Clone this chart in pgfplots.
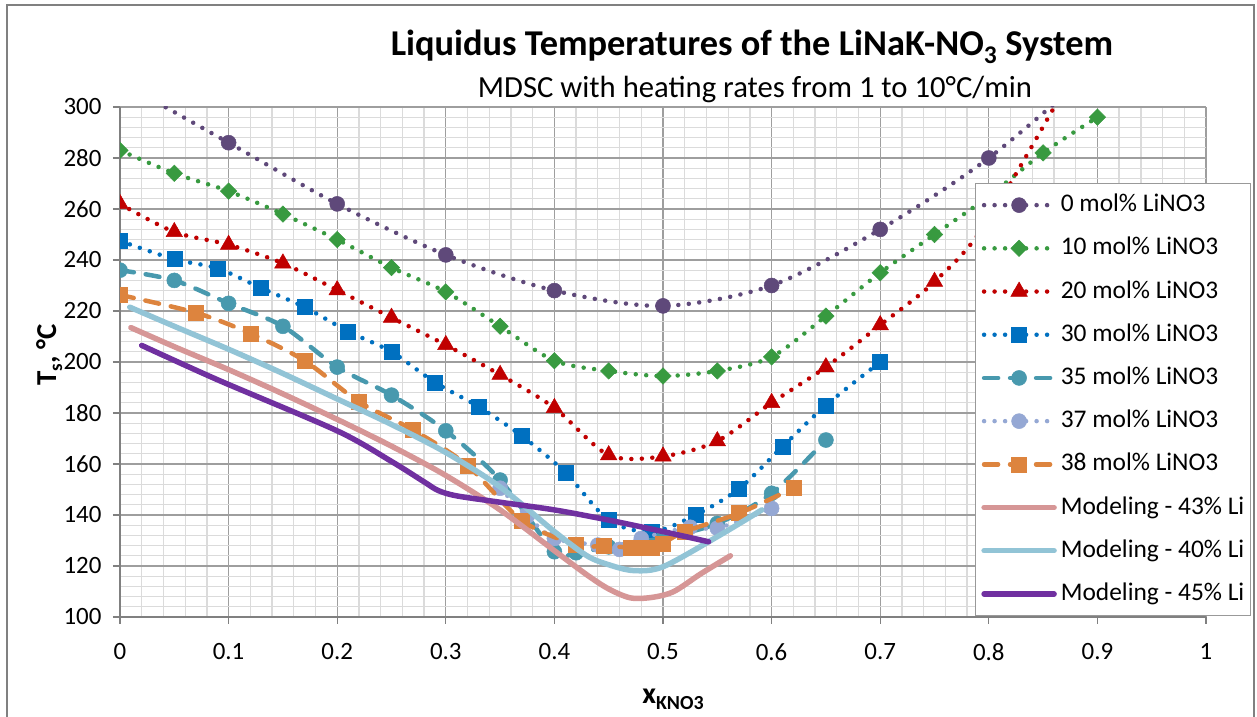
\documentclass[border=0pt]{standalone}
\usepackage{fontspec}
\setmainfont{Carlito}
\usepackage{pgfplots}
\pgfplotsset{compat=1.18}
\definecolor{cP}{RGB}{95,73,122}
\definecolor{cG}{RGB}{56,154,64}
\definecolor{cR}{RGB}{192,0,0}
\definecolor{cB}{RGB}{0,112,192}
\definecolor{cT}{RGB}{72,153,174}
\definecolor{cL}{RGB}{149,168,212}
\definecolor{cO}{RGB}{221,132,62}
\definecolor{cPink}{RGB}{214,150,150}
\definecolor{cLB}{RGB}{146,196,214}
\definecolor{cV}{RGB}{112,48,160}
\pgfplotsset{
 dotline/.style={line width=4.5bp, line cap=round, dash pattern=on 0bp off 10.5bp, smooth},
 dashline/.style={line width=4.5bp, line cap=round, dash pattern=on 14bp off 12bp, smooth},
 modline/.style={line width=5.5bp, smooth, line cap=round},
}
\begin{document}
\begin{tikzpicture}
\path[use as bounding box] (0bp,0bp) rectangle (1257bp,717bp);
\begin{axis}[
 at={(120bp,100bp)}, anchor=south west, scale only axis,
 width=1086bp, height=510bp,
 xmin=0, xmax=1, ymin=100, ymax=300,
 xtick={0,0.1,0.2,0.3,0.4,0.5,0.6,0.7,0.8,0.9,1},
 xticklabels={0,0.1,0.2,0.3,0.4,0.5,0.6,0.7,0.8,0.9,1},
 ytick={100,120,140,160,180,200,220,240,260,280,300},
 minor x tick num=4, minor y tick num=4,
 grid=both,
 major grid style={draw=black!38, line width=1.3bp},
 minor grid style={draw=black!14, line width=1.3bp},
 axis lines=left, axis line style={-, draw=black!50, line width=1.3bp},
 tick align=outside, major tick length=7bp, minor tick length=0bp,
 tick style={draw=black!50, line width=1.3bp},
 /pgf/number format/assume math mode=true,
 ticklabel style={font=\fontsize{25}{30}\selectfont},
 xticklabel style={yshift=-16bp},
 yticklabel style={xshift=-8bp},
 clip marker paths=true,
 legend cell align=left,
 legend style={at={(axis description cs:0.787,0.851)}, anchor=north west,
   draw=black!40, line width=1.3bp, fill=white,
   font=\fontsize{25.5}{30}\selectfont,
   inner xsep=6bp, inner ysep=10bp, row sep=20.2bp, column sep=4bp,
   nodes={inner sep=0pt, text height=18bp, text depth=5bp}},
 legend image code/.code={\draw[mark repeat=2,mark phase=2,#1] plot coordinates {(0bp,0bp) (35bp,0bp) (70bp,0bp)};},
]
\addplot[cP, dotline, mark=*, mark size=7.5bp, mark options={solid, line width=0.5bp, fill=cP}] coordinates {
(0,310) (0.1,286) (0.2,262) (0.3,242) (0.4,228) (0.5,222) (0.6,230) (0.7,252) (0.8,280) (0.9,316)};
\addlegendentry{0 mol\% LiNO3}
\addplot[cG, dotline, mark=square*, mark size=5.8bp, mark options={solid, rotate=45, line width=0.5bp, fill=cG}] coordinates {
(0,283) (0.05,274) (0.1,267) (0.15,258) (0.2,248) (0.25,237) (0.3,227.5) (0.35,214) (0.4,200.5) (0.45,196.5) (0.5,194.5) (0.55,196.5) (0.6,202) (0.65,218) (0.7,235) (0.75,250) (0.8,265) (0.85,282) (0.9,296)};
\addlegendentry{10 mol\% LiNO3}
\addplot[cR, dotline, mark=triangle*, mark size=9.5bp, mark options={solid, line width=0.5bp, fill=cR}] coordinates {
(0,262) (0.05,251) (0.1,246) (0.15,238.7) (0.2,228.2) (0.25,217.4) (0.3,206.7) (0.35,195) (0.4,182) (0.45,163.5) (0.5,163) (0.55,169) (0.6,184) (0.65,198) (0.7,214.5) (0.75,231.5) (0.8,256) (0.9,330)};
\addlegendentry{20 mol\% LiNO3}
\addplot[cB, dotline, mark=square*, mark size=7.5bp, mark options={solid, line width=0.5bp, fill=cB}] coordinates {
(0,247.5) (0.05,240.3) (0.09,236.7) (0.13,229) (0.17,221.5) (0.21,212) (0.25,204) (0.29,192) (0.33,182.5) (0.37,171) (0.41,156.7) (0.45,138) (0.49,133.4) (0.53,140) (0.57,150.3) (0.61,166.8) (0.65,183) (0.7,200)};
\addlegendentry{30 mol\% LiNO3}
\addplot[cT, dashline, mark=*, mark size=7.5bp, mark options={solid, line width=0.5bp, fill=cT}] coordinates {
(0,236) (0.05,232) (0.1,223) (0.15,214) (0.2,198) (0.25,187) (0.3,173) (0.35,153.7) (0.4,125.6) (0.42,125.2) (0.45,127.5) (0.5,131) (0.55,136.7) (0.6,148.5) (0.65,169.4)};
\addlegendentry{35 mol\% LiNO3}
\addplot[cL, dotline, mark=*, mark size=7.5bp, mark options={solid, line width=0.5bp, fill=cL}] coordinates {
(0.35,150.5) (0.375,139.6) (0.4,130.8) (0.44,128.2) (0.46,126.5) (0.48,130.8) (0.525,135.2) (0.55,134.8) (0.6,142.6)};
\addlegendentry{37 mol\% LiNO3}
\addplot[cO, dashline, mark=square*, mark size=7.5bp, mark options={solid, line width=0.5bp, fill=cO}] coordinates {
(0,226.3) (0.07,219.3) (0.12,211.2) (0.17,200.5) (0.22,184.4) (0.27,173.3) (0.32,159.4) (0.37,137.8) (0.42,128.3) (0.445,127.8) (0.47,127.3) (0.48,127.3) (0.49,127.3) (0.5,128.9) (0.52,133.5) (0.57,140.7) (0.62,150.5)};
\addlegendentry{38 mol\% LiNO3}
\addplot[cPink, modline] coordinates {
(0.01,213.5) (0.05,206) (0.1,197) (0.15,187.5) (0.2,177.5) (0.25,167) (0.3,155.5) (0.35,142) (0.4,126) (0.43,116.5) (0.45,111) (0.47,107.5) (0.49,107.7) (0.51,110) (0.535,117) (0.562,124)};
\addlegendentry{Modeling - 43\% Li}
\addplot[cLB, modline] coordinates {
(0.009,221.5) (0.05,214) (0.1,205) (0.15,195.5) (0.2,185.5) (0.25,175.5) (0.3,164.5) (0.35,151) (0.4,133.5) (0.43,124) (0.45,120.5) (0.473,118.2) (0.5,119.7) (0.55,131.5) (0.591,142)};
\addlegendentry{Modeling - 40\% Li}
\addplot[cV, modline] coordinates {
(0.02,206.5) (0.09,193) (0.2,173) (0.25,161) (0.28,153) (0.293,149.6) (0.31,147.5) (0.35,145) (0.4,142) (0.45,138) (0.5,133.5) (0.542,129.5)};
\addlegendentry{Modeling - 45\% Li}
\end{axis}
\draw[black!50, line width=1.5bp] (7bp,0bp) -- (7bp,712bp) -- (1254bp,712bp) -- (1254bp,0bp);
\node[font=\bfseries\fontsize{36.5}{42}\selectfont] at (752bp,670bp) {Liquidus Temperatures of the LiNaK-NO\textsubscript{3} System};
\node[font=\fontsize{30.8}{36}\selectfont] at (755bp,628bp) {MDSC with heating rates from 1 to 10°C/min};
\node[rotate=90, font=\bfseries\fontsize{29}{34}\selectfont, anchor=base] at (56bp,362bp) {T{\fontsize{19}{22}\selectfont\raisebox{-6bp}{s}}, °C};
\node[font=\bfseries\fontsize{30}{36}\selectfont, anchor=base] at (673bp,14bp) {x{\fontsize{20}{24}\selectfont\raisebox{-6bp}{KNO3}}};
\end{tikzpicture}
\end{document}
